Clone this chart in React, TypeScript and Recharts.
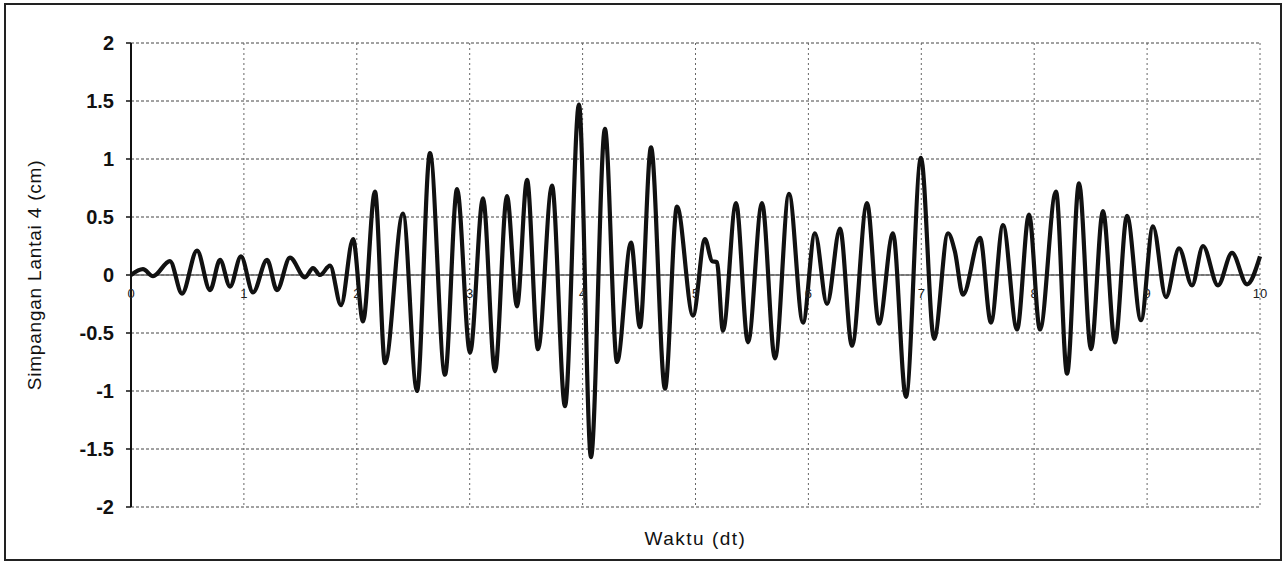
import { CartesianGrid, Line, LineChart, ReferenceLine, XAxis, YAxis } from 'recharts'

// waktu (dt) at each turning point of the record
const TIME = [
  0, 0.106, 0.195, 0.345, 0.452, 0.585, 0.7, 0.789, 0.877, 0.974,
  1.081, 1.205, 1.293, 1.408, 1.541, 1.612, 1.674, 1.763, 1.86, 1.967,
  2.055, 2.161, 2.25, 2.409, 2.533, 2.648, 2.781, 2.888, 3.003, 3.118,
  3.224, 3.33, 3.419, 3.508, 3.605, 3.729, 3.844, 3.968, 4.074, 4.198,
  4.305, 4.429, 4.508, 4.606, 4.73, 4.836, 4.978, 5.084, 5.146, 5.19,
  5.243, 5.359, 5.465, 5.589, 5.704, 5.828, 5.952, 6.058, 6.165, 6.28,
  6.386, 6.519, 6.625, 6.749, 6.864, 6.997, 7.113, 7.237, 7.298, 7.369,
  7.52, 7.617, 7.724, 7.848, 7.954, 8.051, 8.193, 8.291, 8.397, 8.503,
  8.609, 8.716, 8.822, 8.946, 9.052, 9.167, 9.283, 9.398, 9.495, 9.628,
  9.752, 9.885, 10,
]

// simpangan lantai 4 (cm)
const DISP = [
  0, 0.05, -0.01, 0.12, -0.16, 0.21, -0.13, 0.13, -0.1, 0.16,
  -0.15, 0.13, -0.13, 0.15, -0.02, 0.06, 0.0, 0.08, -0.26, 0.31,
  -0.4, 0.72, -0.76, 0.53, -1.0, 1.05, -0.86, 0.74, -0.67, 0.66,
  -0.83, 0.68, -0.27, 0.82, -0.64, 0.77, -1.13, 1.47, -1.57, 1.26,
  -0.75, 0.28, -0.45, 1.1, -0.98, 0.59, -0.35, 0.31, 0.12, 0.11,
  -0.48, 0.62, -0.58, 0.62, -0.72, 0.7, -0.41, 0.36, -0.25, 0.4,
  -0.61, 0.62, -0.42, 0.36, -1.05, 1.01, -0.55, 0.36, 0.2, -0.17,
  0.32, -0.41, 0.43, -0.47, 0.52, -0.47, 0.72, -0.85, 0.79, -0.64,
  0.55, -0.58, 0.51, -0.39, 0.42, -0.19, 0.23, -0.09, 0.25, -0.09,
  0.19, -0.08, 0.16,
]

const X_TICKS = [0, 1, 2, 3, 4, 5, 6, 7, 8, 9, 10]
const Y_TICKS = [2, 1.5, 1, 0.5, 0, -0.5, -1, -1.5, -2]

const WIDTH = 1285
const HEIGHT = 564
const MARGIN = { top: 43, right: 25, bottom: 0, left: 0 }
const X_AXIS_H = 57
const FONT = '"Liberation Sans", Arial, Helvetica, sans-serif'
// y = 0 sits halfway down the plot since the domain is symmetric
const ZERO_Y = MARGIN.top + (HEIGHT - MARGIN.top - X_AXIS_H) / 2

const data = TIME.map((t, i) => ({ t, y: DISP[i] }))

function XTick({ x, payload }: any) {
  return (
    <text
      x={x}
      y={ZERO_Y + 23}
      textAnchor="middle"
      fontSize={13}
      fontFamily={FONT}
      fill="#222"
    >
      {payload.value}
    </text>
  )
}

export default function App() {
  return (
    <div style={{ position: 'absolute', left: 0, top: 0, width: WIDTH, height: HEIGHT, background: '#fff' }}>
      <LineChart width={WIDTH} height={HEIGHT} data={data} margin={MARGIN}>
        <CartesianGrid horizontal vertical={false} stroke="#444" strokeDasharray="3 2" />
        <CartesianGrid horizontal={false} vertical stroke="#666" strokeDasharray="2 3" />
        <XAxis
          dataKey="t"
          type="number"
          domain={[0, 10]}
          ticks={X_TICKS}
          height={X_AXIS_H}
          axisLine={false}
          tickLine={false}
          tick={<XTick />}
          label={{
            value: 'Waktu (dt)',
            position: 'insideBottom',
            offset: 19,
            style: { fontSize: 19, fontFamily: FONT, fill: '#111', letterSpacing: 1.5 },
          }}
        />
        <YAxis
          type="number"
          domain={[-2, 2]}
          ticks={Y_TICKS}
          width={131}
          axisLine={{ stroke: '#111', strokeWidth: 2 }}
          tickLine={{ stroke: '#111', strokeWidth: 1.5 }}
          tickSize={5}
          tickMargin={12}
          tick={{ fontSize: 20, fontWeight: 'bold', fontFamily: FONT, fill: '#111' }}
          label={{
            value: 'Simpangan Lantai 4 (cm)',
            angle: -90,
            position: 'insideLeft',
            offset: 34,
            style: { textAnchor: 'middle', fontSize: 19, fontFamily: FONT, fill: '#111', letterSpacing: 0.8 },
          }}
        />
        <ReferenceLine y={0} stroke="#666" strokeWidth={1.5} />
        <Line
          dataKey="y"
          type="monotone"
          stroke="#111"
          strokeWidth={4.2}
          strokeLinejoin="round"
          dot={false}
          isAnimationActive={false}
        />
      </LineChart>
      <div
        style={{
          position: 'absolute',
          left: 4,
          top: 3,
          width: 1278,
          height: 558,
          boxSizing: 'border-box',
          border: '2px solid #222',
          pointerEvents: 'none',
        }}
      />
    </div>
  )
}
